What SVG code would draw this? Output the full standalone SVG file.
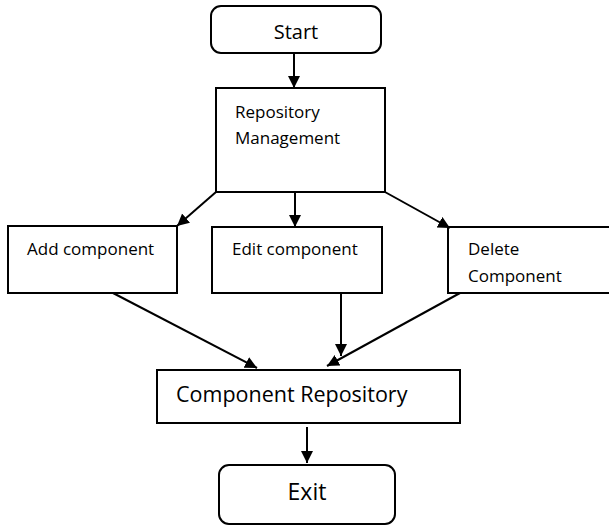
<svg xmlns="http://www.w3.org/2000/svg" width="609" height="526" viewBox="0 0 609 526">
<style>
.box{fill:#fff;stroke:#000;stroke-width:2}
.t{font-family:"Open Sans","Liberation Sans",sans-serif;fill:#000}
.s{font-size:17px}
.edge{stroke:#000;stroke-width:2;fill:none;marker-end:url(#ah)}
</style>
<defs>
<marker id="ah" markerUnits="userSpaceOnUse" markerWidth="13" markerHeight="13" refX="12" refY="6" orient="auto">
<path d="M0,0 L12,6 L0,12 z" fill="#000"/>
</marker>
</defs>
<rect width="609" height="526" fill="#fff"/>
<g id="start">
<rect class="box" x="211" y="6" width="170" height="47" rx="10"/>
<text class="t" x="296" y="39" font-size="20" text-anchor="middle">Start</text>
</g>
<g id="repo-mgmt">
<rect class="box" x="216" y="88" width="169" height="104"/>
<text class="t s" x="235" y="118">Repository</text>
<text class="t s" x="235" y="144">Management</text>
</g>
<g id="add">
<rect class="box" x="8" y="226" width="169" height="67"/>
<text class="t s" x="27" y="255">Add component</text>
</g>
<g id="edit">
<rect class="box" x="212" y="227" width="170" height="66"/>
<text class="t s" x="232" y="255">Edit component</text>
</g>
<g id="delete">
<rect class="box" x="448" y="227" width="166" height="66"/>
<text class="t s" x="468" y="255">Delete</text>
<text class="t s" x="468" y="282">Component</text>
</g>
<g id="comp-repo">
<rect class="box" x="157" y="370" width="303" height="53"/>
<text class="t" x="176" y="402" font-size="21.5">Component Repository</text>
</g>
<g id="exit">
<rect class="box" x="219" y="465" width="176" height="59" rx="10"/>
<text class="t" x="307" y="500" font-size="23" text-anchor="middle">Exit</text>
</g>
<g id="connectors">
<line class="edge" x1="294" y1="53" x2="294" y2="88"/>
<line class="edge" x1="216" y1="192" x2="177" y2="226"/>
<line class="edge" x1="295" y1="192" x2="295" y2="227"/>
<line class="edge" x1="385" y1="192" x2="450" y2="228"/>
<line class="edge" x1="113" y1="293" x2="257" y2="368"/>
<line class="edge" x1="341" y1="293" x2="341" y2="356"/>
<line class="edge" x1="460" y1="293" x2="327" y2="366"/>
<line class="edge" x1="307" y1="427" x2="307" y2="463"/>
</g>
</svg>
